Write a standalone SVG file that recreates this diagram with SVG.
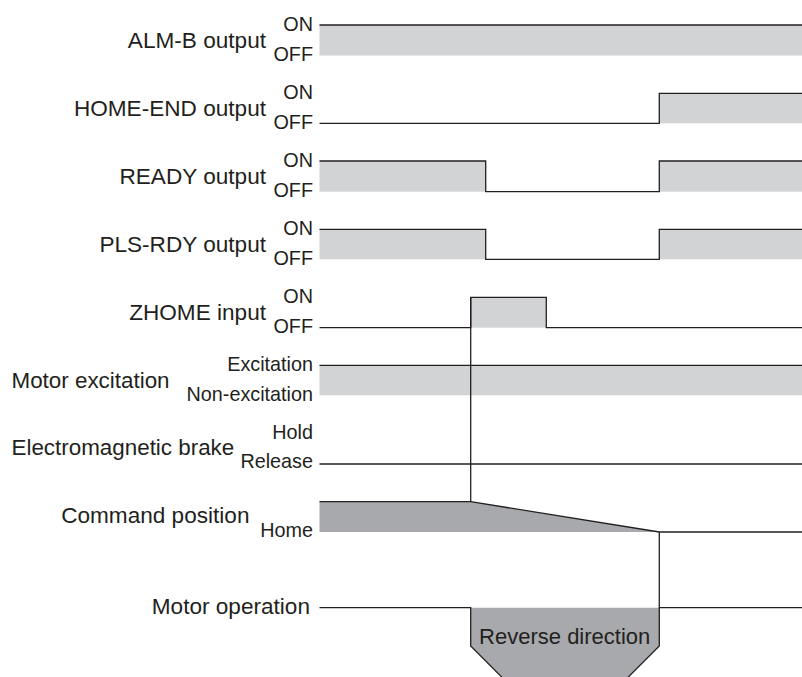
<svg xmlns="http://www.w3.org/2000/svg" width="802" height="677" viewBox="0 0 802 677">
<style>
  text { font-family: "Liberation Sans", Arial, sans-serif; fill: #231f20; }
  .lbl { font-size: 22.6px; text-anchor: end; }
  .lbl-l { font-size: 22.4px; }
  .st { font-size: 19.8px; text-anchor: end; }
  .ln { fill: none; stroke: #231f20; stroke-width: 1.3; }
  .lt { fill: #d1d3d4; stroke: none; }
  .dk { fill: #a7a9ac; stroke: none; }
</style>
<rect width="802" height="677" fill="#ffffff"/>

<g id="alm-b">
  <rect class="lt" x="319.5" y="25" width="482.5" height="30.5"/>
  <path class="ln" d="M319.5 25 H802"/>
  <text class="lbl" x="266" y="48">ALM-B output</text>
  <text class="st" x="313" y="31">ON</text>
  <text class="st" x="313" y="61">OFF</text>
</g>

<g id="home-end">
  <rect class="lt" x="659.3" y="93.3" width="142.7" height="30"/>
  <path class="ln" d="M319.5 123.3 H659.3 V93.3 H802"/>
  <text class="lbl" x="266" y="116">HOME-END output</text>
  <text class="st" x="313" y="99">ON</text>
  <text class="st" x="313" y="128.5">OFF</text>
</g>

<g id="ready">
  <rect class="lt" x="319.5" y="161" width="166.2" height="30.7"/>
  <rect class="lt" x="659.3" y="161" width="142.7" height="30.7"/>
  <path class="ln" d="M319.5 161 H485.7 V191.7 H659.3 V161 H802"/>
  <text class="lbl" x="266" y="184">READY output</text>
  <text class="st" x="313" y="166.7">ON</text>
  <text class="st" x="313" y="197.3">OFF</text>
</g>

<g id="pls-rdy">
  <rect class="lt" x="319.5" y="229.3" width="166.2" height="30"/>
  <rect class="lt" x="659.3" y="229.3" width="142.7" height="30"/>
  <path class="ln" d="M319.5 229.3 H485.7 V259.3 H659.3 V229.3 H802"/>
  <text class="lbl" x="266" y="251.7">PLS-RDY output</text>
  <text class="st" x="313" y="234.7">ON</text>
  <text class="st" x="313" y="265">OFF</text>
</g>

<g id="zhome">
  <rect class="lt" x="470.7" y="297.3" width="75.6" height="30.4"/>
  <path class="ln" d="M319.5 327.7 H470.7 V297.3 H546.3 V327.7 H802"/>
  <text class="lbl" x="266" y="320">ZHOME input</text>
  <text class="st" x="313" y="303.3">ON</text>
  <text class="st" x="313" y="333.3">OFF</text>
</g>

<g id="motor-excitation">
  <rect class="lt" x="319.5" y="365.3" width="482.5" height="30"/>
  <path class="ln" d="M319.5 365.3 H802"/>
  <text class="lbl-l" x="11.5" y="388.3">Motor excitation</text>
  <text class="st" x="313" y="370.7">Excitation</text>
  <text class="st" x="313" y="400.7">Non-excitation</text>
</g>

<g id="brake">
  <path class="ln" d="M319.5 464 H802"/>
  <text class="lbl-l" x="11.5" y="455">Electromagnetic brake</text>
  <text class="st" x="313" y="439">Hold</text>
  <text class="st" x="313" y="468.3">Release</text>
</g>

<g id="command-position">
  <polygon class="dk" points="319.5,501.7 470.7,501.7 659.3,532 319.5,532"/>
  <path class="ln" d="M319.5 501.7 H470.7 L659.3 532 H802"/>
  <text class="lbl" x="249.5" y="523.3">Command position</text>
  <text class="st" x="313" y="536.7">Home</text>
</g>

<g id="motor-operation">
  <polygon class="dk" points="470.7,607.7 659.3,607.7 659.3,646 625.3,680 505.7,680 470.7,646"/>
  <path class="ln" d="M319.5 607.7 H470.7 V646 L505.7 681"/>
  <path class="ln" d="M802 607.7 H659.3 V646 L624.3 681"/>
  <text class="lbl" x="310" y="614.3">Motor operation</text>
  <text x="564.7" y="644" style="font-size:22px;text-anchor:middle">Reverse direction</text>
</g>

<g id="connectors">
  <path class="ln" d="M470.7 297.3 V501.7"/>
  <path class="ln" d="M659.3 532 V607.7"/>
</g>
</svg>
